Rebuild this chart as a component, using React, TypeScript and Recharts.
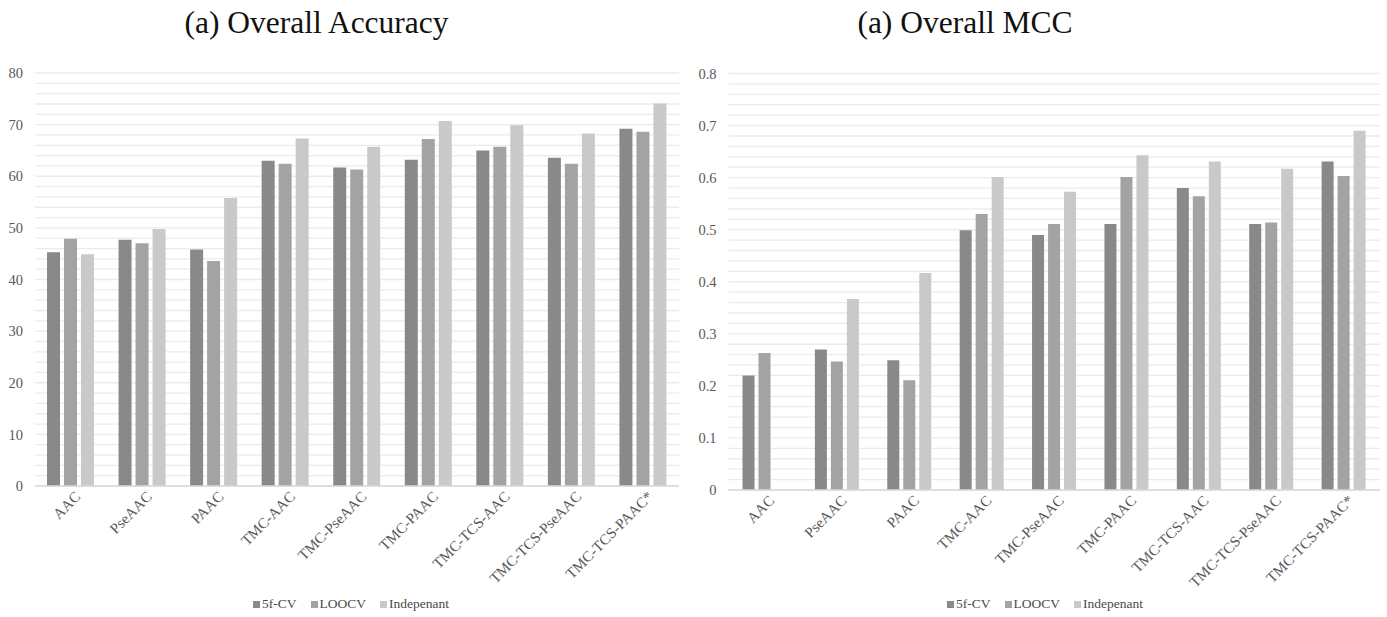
import React from 'react';
import { BarChart, Bar, XAxis, YAxis, CartesianGrid } from 'recharts';

const categories = ['AAC', 'PseAAC', 'PAAC', 'TMC-AAC', 'TMC-PseAAC', 'TMC-PAAC', 'TMC-TCS-AAC', 'TMC-TCS-PseAAC', 'TMC-TCS-PAAC*'];
const seriesNames = ['5f-CV', 'LOOCV', 'Indepenant'];
const seriesColors = ['#898989', '#a3a3a3', '#c9c9c9'];

const acc5f = [45.3, 47.7, 45.8, 63.0, 61.7, 63.2, 65.0, 63.6, 69.2];
const accLoo = [47.9, 47.0, 43.6, 62.4, 61.3, 67.2, 65.7, 62.4, 68.6];
const accInd = [44.9, 49.8, 55.8, 67.3, 65.7, 70.7, 69.9, 68.3, 74.1];

const mcc5f = [0.22, 0.27, 0.249, 0.499, 0.49, 0.511, 0.58, 0.511, 0.631];
const mccLoo = [0.263, 0.247, 0.211, 0.53, 0.511, 0.601, 0.564, 0.514, 0.603];
const mccInd = [null, 0.367, 0.417, 0.601, 0.573, 0.643, 0.631, 0.617, 0.69];

const accTickLabels = ['0', '10', '20', '30', '40', '50', '60', '70', '80'];
const mccTickLabels = ['0', '0.1', '0.2', '0.3', '0.4', '0.5', '0.6', '0.7', '0.8'];
const minorPerMajor = 5;

const build = (a: (number | null)[], b: (number | null)[], c: (number | null)[]) =>
  categories.map((name, i) => ({ name, s0: a[i], s1: b[i], s2: c[i] }));

const accData = build(acc5f, accLoo, accInd);
const mccData = build(mcc5f, mccLoo, mccInd);

const makeTicks = (labels: string[]) => {
  const major = labels.map(Number);
  const step = (major[1] - major[0]) / minorPerMajor;
  const ticks: number[] = [];
  for (let i = 0; i <= (labels.length - 1) * minorPerMajor; i++) ticks.push(+(i * step).toFixed(6));
  return ticks;
};

const serif = '"Liberation Serif", "Times New Roman", serif';
const textColor = '#595959';

const XTick = (props: any) => {
  const { x, y, payload } = props;
  return (
    <text
      x={x}
      y={y}
      transform={`rotate(-45 ${x} ${y})`}
      textAnchor="end"
      dy={10}
      dx={5}
      fontSize={15}
      fontFamily={serif}
      fill={textColor}
    >
      {payload.value}
    </text>
  );
};

const Legend = ({ left, top }: { left: number; top: number }) => (
  <div
    style={{
      position: 'absolute',
      left,
      top,
      display: 'flex',
      alignItems: 'center',
      fontFamily: serif,
      fontSize: 13.5,
      lineHeight: '14px',
      color: '#4a4a4a',
    }}
  >
    {seriesNames.map((n, i) => (
      <div key={n} style={{ display: 'flex', alignItems: 'center', marginRight: 14 }}>
        <span style={{ display: 'inline-block', width: 7, height: 7, background: seriesColors[i], marginRight: 2 }} />
        <span>{n}</span>
      </div>
    ))}
  </div>
);

const Title = ({ text, center }: { text: string; center: number }) => (
  <div
    style={{
      position: 'absolute',
      left: center - 200,
      width: 400,
      top: 7,
      textAlign: 'center',
      fontFamily: serif,
      fontSize: 31.5,
      lineHeight: '31.5px',
      color: '#111',
    }}
  >
    {text}
  </div>
);

const Panel = ({
  data,
  labels,
  width,
  top,
  yWidth,
  right,
  xHeight,
  barSize,
}: {
  data: any[];
  labels: string[];
  width: number;
  top: number;
  yWidth: number;
  right: number;
  xHeight: number;
  barSize: number;
}) => {
  const ticks = makeTicks(labels);
  const max = Number(labels[labels.length - 1]);
  const majorSet = new Map(labels.map((l) => [Number(l).toFixed(6), l]));
  return (
    <BarChart
      width={width}
      height={617}
      data={data}
      margin={{ top, right, left: 0, bottom: 0 }}
      barSize={barSize}
      barGap={4}
    >
      <CartesianGrid vertical={false} stroke="#ebebeb" strokeWidth={1.3} />
      <XAxis
        dataKey="name"
        interval={0}
        height={xHeight}
        tickLine={false}
        axisLine={{ stroke: '#d9d9d9', strokeWidth: 1.5 }}
        tick={<XTick />}
      />
      <YAxis
        width={yWidth}
        domain={[0, max]}
        ticks={ticks}
        interval={0}
        tickLine={false}
        axisLine={false}
        tickSize={6}
        tickMargin={6}
        tickFormatter={(v: number) => majorSet.get(v.toFixed(6)) ?? ''}
        tick={{ fontSize: 14.5, fontFamily: serif, fill: textColor }}
      />
      {seriesNames.map((n, i) => (
        <Bar key={n} dataKey={`s${i}`} name={n} fill={seriesColors[i]} isAnimationActive={false} />
      ))}
    </BarChart>
  );
};

export default function App() {
  return (
    <div style={{ position: 'absolute', left: 0, top: 0, width: 1387, height: 617, background: '#fff', overflow: 'hidden' }}>
      <div style={{ position: 'absolute', left: 0, top: 0 }}>
        <Panel data={accData} labels={accTickLabels} width={690} top={73} yWidth={35} right={11} xHeight={131} barSize={13} />
      </div>
      <div style={{ position: 'absolute', left: 690, top: 0 }}>
        <Panel data={mccData} labels={mccTickLabels} width={697} top={73.5} yWidth={38.5} right={7} xHeight={127} barSize={12} />
      </div>
      <Title text="(a) Overall Accuracy" center={316.5} />
      <Title text="(a) Overall MCC" center={965} />
      <Legend left={253} top={597} />
      <Legend left={947} top={597} />
    </div>
  );
}
